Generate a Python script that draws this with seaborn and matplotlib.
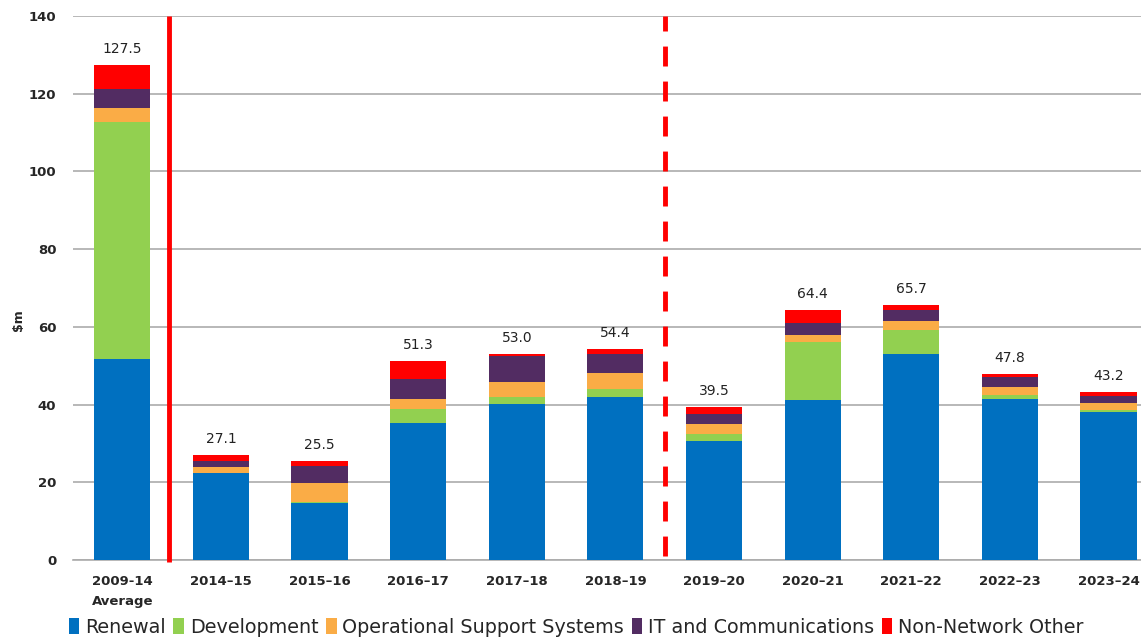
import matplotlib
matplotlib.use("Agg")
import matplotlib.pyplot as plt
from matplotlib.patches import Patch
import seaborn as sns
import pandas as pd
import numpy as np

categories = ["2009-14\nAverage", "2014–15", "2015–16", "2016–17", "2017–18", "2018–19",
              "2019–20", "2020–21", "2021–22", "2022–23", "2023–24"]
renewal     = [51.7, 22.3, 14.6, 35.3, 40.1, 42.0, 30.7, 41.2, 53.1, 41.4, 38.1]
development = [61.1,  0.0,  0.3,  3.6,  1.9,  2.0,  1.6, 14.8,  6.2,  1.0,  0.5]
oss         = [ 3.6,  1.6,  4.9,  2.5,  3.9,  4.2,  2.6,  1.9,  2.1,  2.2,  1.8]
it_comms    = [ 4.8,  1.7,  4.5,  5.2,  6.6,  4.8,  2.8,  3.2,  2.9,  2.6,  1.9]
other       = [ 6.3,  1.5,  1.2,  4.7,  0.5,  1.4,  1.8,  3.3,  1.4,  0.6,  0.9]
totals      = [127.5, 27.1, 25.5, 51.3, 53.0, 54.4, 39.5, 64.4, 65.7, 47.8, 43.2]
series_names = ["Renewal", "Development", "Operational Support Systems",
                "IT and Communications", "Non-Network Other"]
colors = ["#0070C0", "#92D050", "#FAAC46", "#522C62", "#FF0000"]

sns.set_theme(style="white")
plt.rcParams["font.family"] = ["DejaVu Sans"]

fig = plt.figure(figsize=(11.41, 6.4), dpi=100)
ax = fig.add_axes([73/1141, 80/640, (1141-73)/1141, 544/640])

layers = [renewal, development, oss, it_comms, other]
cum = np.cumsum(np.array(layers), axis=0)
# draw from the top of the stack down so lower segments overlay
for i in range(4, -1, -1):
    d = pd.DataFrame({"cat": categories, "val": cum[i]})
    sns.barplot(data=d, x="cat", y="val", order=categories, color=colors[i],
                width=0.57, linewidth=0, saturation=1, ax=ax, zorder=3)

for i, t in enumerate(totals):
    ax.text(i, t + 2.3, f"{t:.1f}", ha="center", va="bottom", fontsize=10, color="#222222")

ax.set_ylim(0, 140)
ax.set_xlim(-0.5, 10.33)
ax.set_yticks(np.arange(0, 141, 20))
ax.yaxis.grid(True, color="#ababab", linewidth=1.2, zorder=0)
ax.set_axisbelow(True)
for s in ["top", "right", "left"]:
    ax.spines[s].set_visible(False)
ax.spines["bottom"].set_color("#ababab")
ax.spines["bottom"].set_linewidth(1.2)
ax.tick_params(axis="y", length=5, color="#ababab", pad=7, labelsize=9.5)
ax.tick_params(axis="x", length=0, pad=11)
for lab in ax.get_yticklabels():
    lab.set_fontweight("bold")
ax.set_xticks(range(len(categories)))
ax.set_xticklabels(categories, fontsize=9.5, fontweight="bold", linespacing=1.7)
ax.set_xlabel("")
ax.set_ylabel("")
fig.text(18/1141, 1 - 320/640, "$m", rotation=90, ha="center", va="center",
         fontsize=9, fontweight="bold")

# vertical separators
ax.plot([0.47, 0.47], [-0.6, 140], color="#FF0000", lw=3.5, clip_on=False, zorder=4,
        solid_capstyle="butt")
ax.plot([5.5, 5.5], [1.0, 140], color="#FF0000", lw=3.5, clip_on=False, zorder=4,
        dashes=(4.1, 3.1), dash_capstyle="butt")

handles = [Patch(facecolor=c, edgecolor="none") for c in colors]
fig.legend(handles, series_names, loc="lower center", bbox_to_anchor=(0.505, -0.022),
           ncol=5, frameon=False, prop={"size": 13.8},
           handlelength=0.55, handleheight=0.9, handletextpad=0.3, columnspacing=0.4)

fig.savefig("out.png", dpi=100)
